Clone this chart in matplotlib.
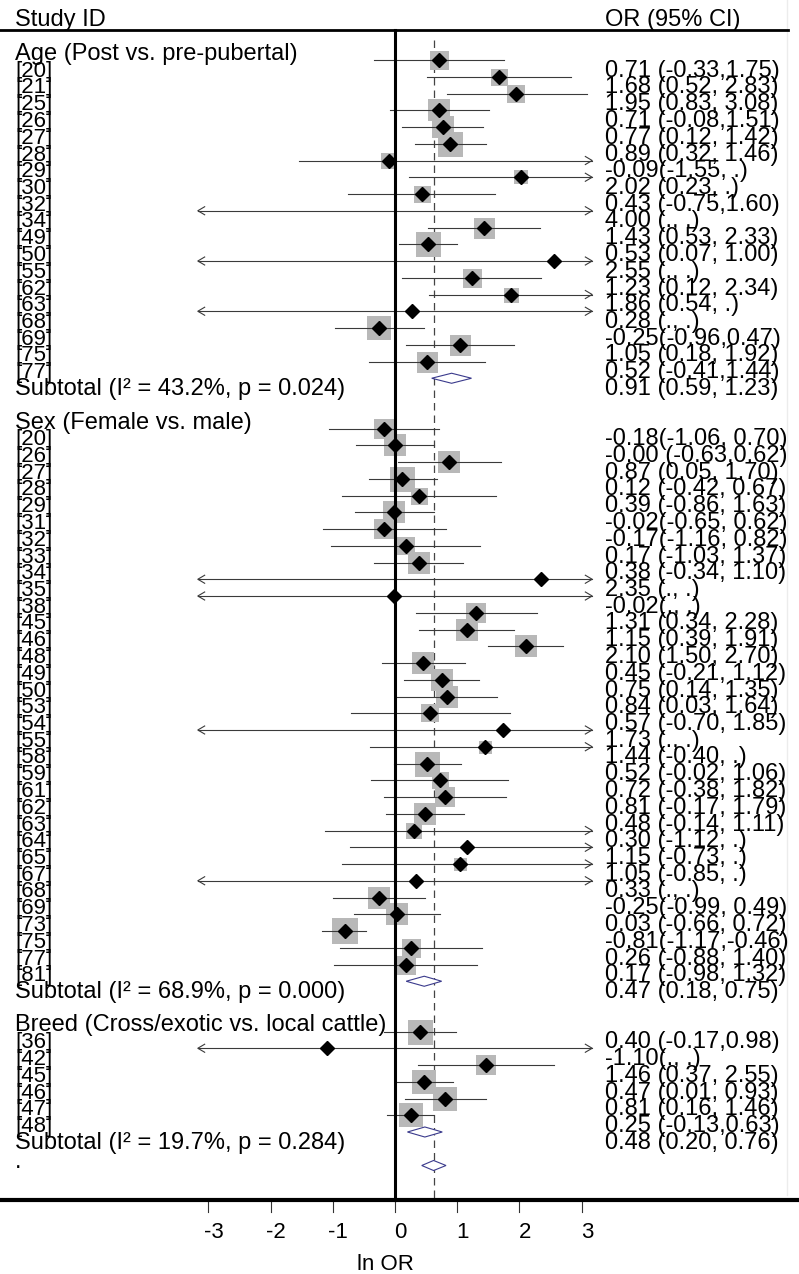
import matplotlib.pyplot as plt
from matplotlib.patches import Polygon

plt.rcParams['font.family'] = ['Liberation Sans', 'DejaVu Sans']

# ln OR with 95% CI per study (None = not estimable, drawn as arrow)
age_ids = [20, 21, 25, 26, 27, 28, 29, 30, 32, 34, 49, 50, 55, 62, 63, 68, 69, 75, 77]
age_est = [0.71, 1.68, 1.95, 0.71, 0.77, 0.89, -0.09, 2.02, 0.43, 4.00, 1.43, 0.53, 2.55, 1.23, 1.86, 0.28, -0.25, 1.05, 0.52]
age_lo = [-0.33, 0.52, 0.83, -0.08, 0.12, 0.32, -1.55, 0.23, -0.75, None, 0.53, 0.07, None, 0.12, 0.54, None, -0.96, 0.18, -0.41]
age_hi = [1.75, 2.83, 3.08, 1.51, 1.42, 1.46, None, None, 1.60, None, 2.33, 1.00, None, 2.34, None, None, 0.47, 1.92, 1.44]
age_w = [19, 17, 18, 22, 23, 25, 16, 14, 17, 0, 21, 25, 0, 19, 15, 0, 24, 21, 21]
age_sub = (0.91, 0.59, 1.23)
age_het = ("43.2", "0.024")

sex_ids = [20, 26, 27, 28, 29, 31, 32, 33, 34, 35, 38, 45, 46, 48, 49, 50, 53, 54, 55, 58, 59, 61, 62, 63, 64, 65, 67, 68, 69, 73, 75, 77, 81]
sex_est = [-0.18, -0.00, 0.87, 0.12, 0.39, -0.02, -0.17, 0.17, 0.38, 2.35, -0.02, 1.31, 1.15, 2.10, 0.45, 0.75, 0.84, 0.57, 1.73,
           1.44, 0.52, 0.72, 0.81, 0.48, 0.30, 1.15, 1.05, 0.33, -0.25, 0.03, -0.81, 0.26, 0.17]
sex_lo = [-1.06, -0.63, 0.05, -0.42, -0.86, -0.65, -1.16, -1.03, -0.34, None, None, 0.34, 0.39, 1.50, -0.21, 0.14, 0.03, -0.70, None,
          -0.40, -0.02, -0.38, -0.17, -0.14, -1.12, -0.73, -0.85, None, -0.99, -0.66, -1.17, -0.88, -0.98]
sex_hi = [0.70, 0.62, 1.70, 0.67, 1.63, 0.62, 0.82, 1.37, 1.10, None, None, 2.28, 1.91, 2.70, 1.12, 1.35, 1.64, 1.85, None,
          None, 1.06, 1.82, 1.79, 1.11, None, None, None, None, 0.49, 0.72, -0.46, 1.40, 1.32]
sex_w = [20, 22, 22, 25, 17, 22, 20, 18, 23, 0, 0, 20, 22, 23, 23, 23, 22, 18, 0, 13, 25, 17, 20, 23, 16, 0, 13, 0, 22, 23, 26, 19, 19]
sex_sub = (0.47, 0.18, 0.75)
sex_het = ("68.9", "0.000")

breed_ids = [36, 42, 45, 46, 47, 48]
breed_est = [0.40, -1.10, 1.46, 0.47, 0.81, 0.25]
breed_lo = [-0.17, None, 0.37, 0.01, 0.16, -0.13]
breed_hi = [0.98, None, 2.55, 0.93, 1.46, 0.63]
breed_w = [25, 0, 20, 24, 24, 24]
breed_sub = (0.48, 0.20, 0.76)
breed_het = ("19.7", "0.284")

overall = (0.62, 0.43, 0.82)
xticks = [-3, -2, -1, 0, 1, 2, 3]

groups = [
    ("Age (Post vs. pre-pubertal)", age_ids, age_est, age_lo, age_hi, age_w, age_sub, age_het, 17),
    ("Sex (Female vs. male)", sex_ids, sex_est, sex_lo, sex_hi, sex_w, sex_sub, sex_het, 18),
    ("Breed (Cross/exotic vs. local cattle)", breed_ids, breed_est, breed_lo, breed_hi, breed_w, breed_sub, breed_het, 17),
]

# pixel scale of the original: x zero at 395px, 62.2 px per unit; rows 16.75px apart
X0, XS, Y0, YS = 395, 62.2, 60, 16.75
fig = plt.figure(figsize=(7.99, 12.74), dpi=100)
ax = fig.add_axes([0, 0, 1, 1])
ax.set_xlim(-X0 / XS, (799 - X0) / XS)
ax.set_ylim((1274 - Y0) / YS, -Y0 / YS)
ax.axis('off')

XL = (15 - X0) / XS       # left label column
XR = (605 - X0) / XS      # right text column
CLIP = 3.17
TOP = (30 - Y0) / YS
BOT = (1200 - Y0) / YS
FS = 17
line_c = '#3a3a3a'


def fmt(v):
    return '.' if v is None else f'{v:.2f}'


def ci_text(e, lo, hi, maxlen):
    head = f'{e:.2f}' + ('(' if e < 0 else ' (')
    s = head + fmt(lo) + ', ' + fmt(hi) + ')'
    if len(s) > maxlen:
        s = head + fmt(lo) + ',' + fmt(hi) + ')'
    return s


def arrow(x, y, d):
    ax.plot([x - d * 0.11, x, x - d * 0.11], [y - 0.24, y, y + 0.24], color=line_c, lw=0.8, zorder=3)


def diamond(y, e, lo, hi):
    ax.add_patch(Polygon([[lo, y], [e, y - 0.3], [hi, y], [e, y + 0.3]], closed=True,
                         facecolor='white', edgecolor='#3a3a8c', lw=0.8, zorder=4))


row = -1
for header, ids, est, lo, hi, w, sub, het, maxlen in groups:
    ax.text(XL, row + 1, header, fontsize=FS, va='baseline', ha='left')
    row += 1
    for sid, e, l, h, bw in zip(ids, est, lo, hi, w):
        x1 = -CLIP if (l is None or l < -CLIP) else l
        x2 = CLIP if (h is None or h > CLIP) else h
        ax.plot([x1, x2], [row, row], color=line_c, lw=0.8, zorder=3)
        if x1 == -CLIP:
            arrow(-CLIP, row, -1)
        if x2 == CLIP:
            arrow(CLIP, row, 1)
        if abs(e) < CLIP:
            if bw > 0:
                ax.scatter([e], [row], marker='s', s=(bw * 0.72) ** 2, color='#b8b8b8', linewidths=0, zorder=2)
            ax.plot([e], [row], marker='D', ms=7.2, color='black', zorder=5)
        ax.text(XL, row + 1, f'[{sid}]', fontsize=16, va='baseline', ha='left')
        ax.text(XR, row + 1, ci_text(e, l, h, maxlen), fontsize=FS, va='baseline', ha='left')
        row += 1
    diamond(row, *sub)
    ax.text(XL, row + 1, f'Subtotal (I\u00b2 = {het[0]}%, p = {het[1]})', fontsize=FS, va='baseline', ha='left')
    ax.text(XR, row + 1, f'{sub[0]:.2f} ({sub[1]:.2f}, {sub[2]:.2f})', fontsize=FS, va='baseline', ha='left')
    row += 2

diamond(row, *overall)
ax.text(XL, row + 0.15, '.', fontsize=FS, va='baseline', ha='left')

# frame lines
ax.plot([-X0 / XS, (788 - X0) / XS], [TOP, TOP], color='black', lw=2.0, zorder=6)
ax.plot([-X0 / XS, (799 - X0) / XS], [BOT, BOT], color='black', lw=3.0, zorder=6)
ax.plot([0, 0], [TOP, BOT], color='black', lw=2.2, zorder=6)
ax.plot([overall[0], overall[0]], [(40 - Y0) / YS, BOT], color='#444444', lw=0.9, dashes=(6, 4), zorder=1)
ax.plot([(787 - X0) / XS] * 2, [-Y0 / YS, (1195 - Y0) / YS], color='#ececec', lw=1.0, zorder=0)

ax.text(XL, (26 - Y0) / YS, 'Study ID', fontsize=FS, va='baseline', ha='left')
ax.text(XR, (26 - Y0) / YS, 'OR (95% CI)', fontsize=FS, va='baseline', ha='left')

# x axis
for t in xticks:
    ax.plot([t, t], [BOT, (1212 - Y0) / YS], color='#333333', lw=0.8)
    ax.text(t + 0.09, (1233 - Y0) / YS, str(t), fontsize=16, ha='center', va='center')
ax.text(-0.15, (1265 - Y0) / YS, 'ln OR', fontsize=16, ha='center', va='center')

fig.savefig('out.png', dpi=100)
